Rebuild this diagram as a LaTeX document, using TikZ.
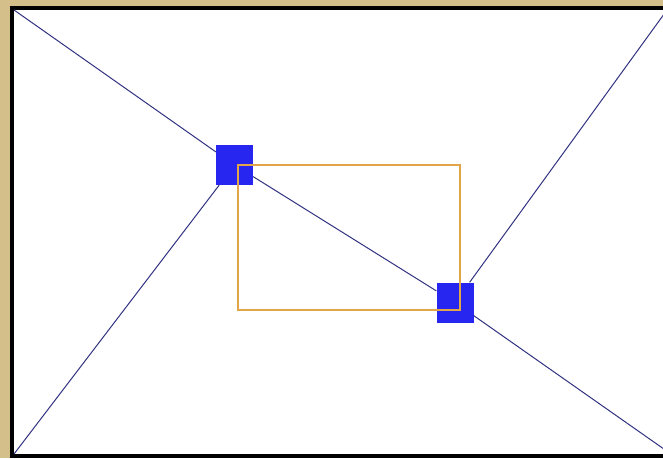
\documentclass[tikz,border=0pt]{standalone}
\usepackage{tikz}
\usepackage{xcolor}
\definecolor{panelTan}{RGB}{212,190,138}
\definecolor{rayNavy}{RGB}{50,50,130}
\definecolor{handleBlue}{RGB}{38,38,240}
\definecolor{boxOrange}{RGB}{226,166,72}

\begin{document}
\begin{tikzpicture}[x=1pt,y=-1pt,
  ray/.style={rayNavy,line width=1pt},
  handle/.style={fill=handleBlue,draw=none,minimum width=37pt,minimum height=40pt,inner sep=0pt}]
\useasboundingbox (0,0) rectangle (663,458);
\clip (0,0) rectangle (663,458);
\fill[panelTan] (0,0) rectangle (663,458);
\draw[line width=4pt,fill=white] (12,8) rectangle (675,456);
% corners of the view
\coordinate (tl) at (14,10);
\coordinate (bl) at (14,454);
\coordinate (tr) at (667,10);
\coordinate (br) at (671,454);
% the two handles
\node[handle] (hA) at (234.5,165) {};
\node[handle] (hB) at (455,302.5) {};
\draw[ray] (tl) -- (hA);
\draw[ray] (bl) -- (hA);
\draw[ray] (hA) -- (hB);
\draw[ray] (hB) -- (tr);
\draw[ray] (hB) -- (br);
\draw[boxOrange,line width=2pt] (237.5,165) rectangle (460,310);
\end{tikzpicture}
\end{document}
